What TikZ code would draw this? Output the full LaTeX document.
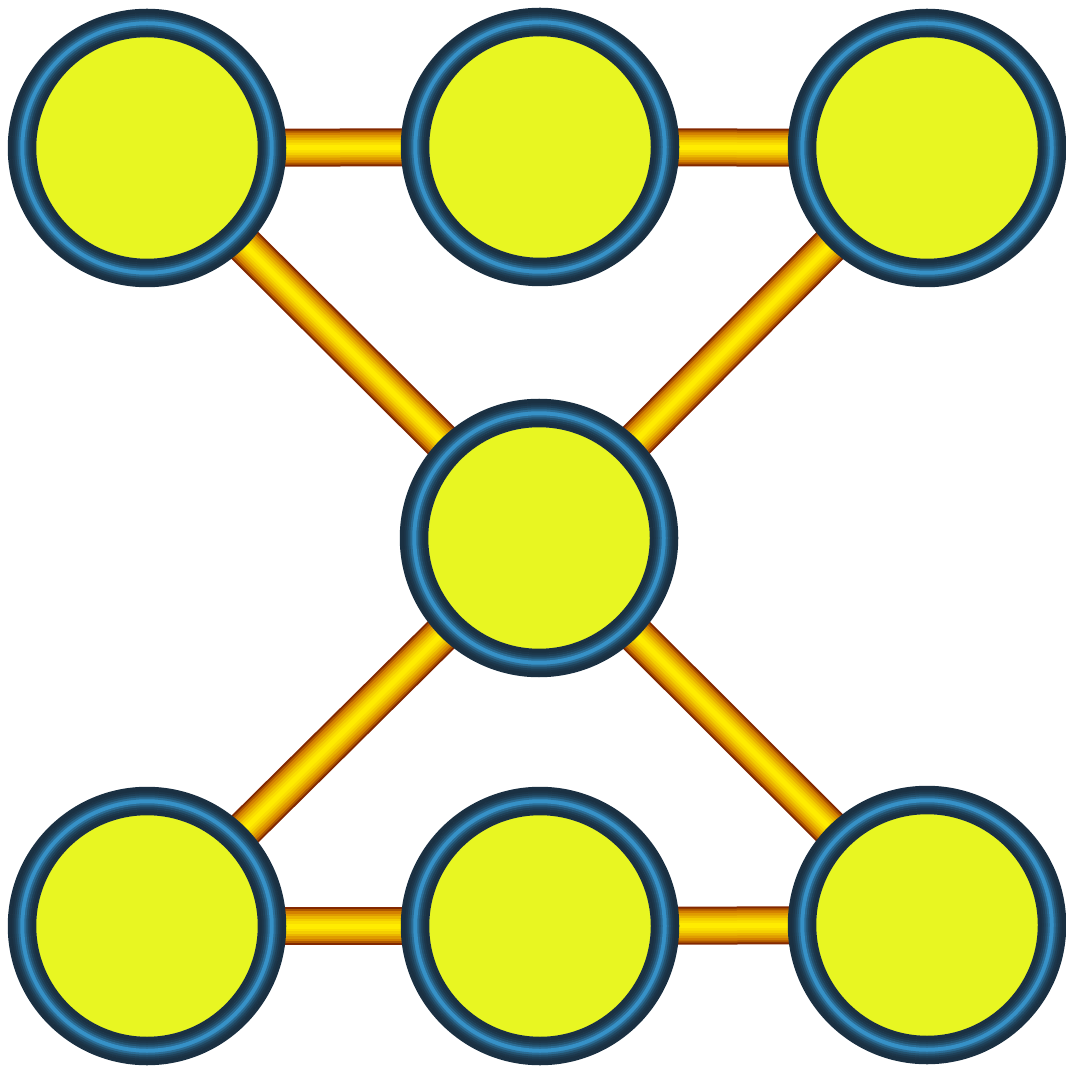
\documentclass[tikz,border=0pt]{standalone}
\usepackage{xcolor}
\usepackage{tikz}
\usetikzlibrary{backgrounds}

\definecolor{ballfill}{RGB}{232,246,34}
\definecolor{ringdark}{RGB}{26,48,66}
\definecolor{ringblue}{RGB}{60,168,230}
\definecolor{tubedark}{RGB}{130,40,0}
\definecolor{tubemid}{RGB}{212,128,0}
\definecolor{tubelight}{RGB}{255,236,0}

\begin{document}
\begin{tikzpicture}[
  ball/.style={circle, fill=ballfill, minimum size=22.2mm, inner sep=0pt}
]
\useasboundingbox (0,0) rectangle (10.66,10.65);
\node[ball] (tl) at (1.47,9.17) {};
\node[ball] (tm) at (5.40,9.18) {};
\node[ball] (tr) at (9.27,9.17) {};
\node[ball] (mid) at (5.39,5.27) {};
\node[ball] (bl) at (1.47,1.39) {};
\node[ball] (bm) at (5.40,1.39) {};
\node[ball] (br) at (9.27,1.40) {};
% shaded rings
\foreach \n in {tl,tm,tr,mid,bl,bm,br}
  \foreach \i in {0,...,13} {
    \pgfmathtruncatemacro\shade{100*(1-abs(\i-6.5)/6.5)^2.5}
    \draw[ringblue!\shade!ringdark, line width=0.25mm]
      (\n) circle[radius=11.2mm+0.2mm*\i];
  }
% tubes
\begin{scope}[on background layer]
\foreach \a/\b in {tl/tm, tm/tr, tl/mid, tr/mid, mid/bl, mid/br, bl/bm, bm/br}
  \foreach \w/\c in {3.8mm/tubedark, 3.4mm/{tubemid!55!tubedark}, 3.0mm/tubemid,
                     2.5mm/{tubelight!25!tubemid}, 2.0mm/{tubelight!50!tubemid},
                     1.5mm/{tubelight!72!tubemid}, 1.0mm/{tubelight!88!tubemid},
                     0.5mm/tubelight}
    \draw[line width=\w, \c] (\a) -- (\b);
\end{scope}
\end{tikzpicture}
\end{document}
